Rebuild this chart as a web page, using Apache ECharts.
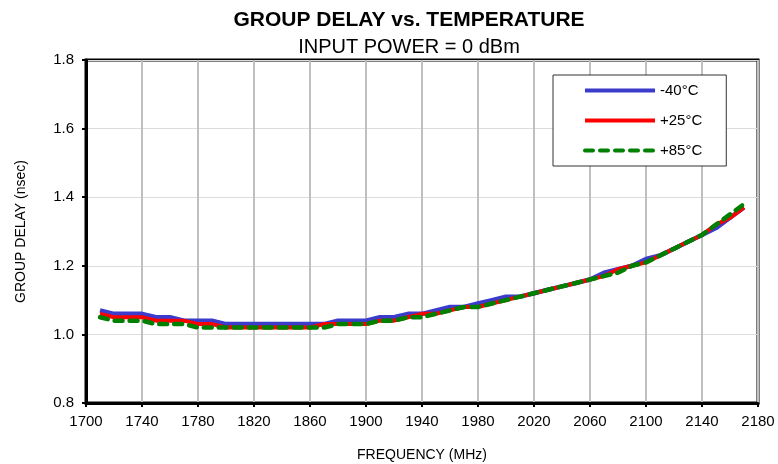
<!DOCTYPE html>
<html>
<head>
<meta charset="utf-8">
<script src="https://cdn.jsdelivr.net/npm/echarts@6/dist/echarts.min.js"></script>
<style>
  html, body { margin: 0; padding: 0; background: #fff; }
  #chart { width: 778px; height: 464px; }
</style>
</head>
<body>
<div id="chart"></div>
<script>
// frequency points (MHz)
var freq = [1710, 1720, 1730, 1740, 1750, 1760, 1770, 1780, 1790, 1800,
  1810, 1820, 1830, 1840, 1850, 1860, 1870, 1880, 1890, 1900,
  1910, 1920, 1930, 1940, 1950, 1960, 1970, 1980, 1990, 2000,
  2010, 2020, 2030, 2040, 2050, 2060, 2070, 2080, 2090, 2100,
  2110, 2120, 2130, 2140, 2150, 2160, 2170];

// group delay (nsec)
var tMinus40 = [1.07, 1.06, 1.06, 1.06, 1.05, 1.05, 1.04, 1.04, 1.04, 1.03,
  1.03, 1.03, 1.03, 1.03, 1.03, 1.03, 1.03, 1.04, 1.04, 1.04,
  1.05, 1.05, 1.06, 1.06, 1.07, 1.08, 1.08, 1.09, 1.10, 1.11,
  1.11, 1.12, 1.13, 1.14, 1.15, 1.16, 1.18, 1.19, 1.20, 1.22,
  1.23, 1.25, 1.27, 1.29, 1.31, 1.34, 1.37];
var tPlus25 = [1.06, 1.05, 1.05, 1.05, 1.04, 1.04, 1.04, 1.03, 1.03, 1.02,
  1.02, 1.02, 1.02, 1.02, 1.02, 1.02, 1.03, 1.03, 1.03, 1.03,
  1.04, 1.04, 1.05, 1.06, 1.06, 1.07, 1.08, 1.08, 1.09, 1.10,
  1.11, 1.12, 1.13, 1.14, 1.15, 1.16, 1.17, 1.19, 1.20, 1.21,
  1.23, 1.25, 1.27, 1.29, 1.32, 1.34, 1.37];
var tPlus85 = [1.05, 1.04, 1.04, 1.04, 1.03, 1.03, 1.03, 1.02, 1.02, 1.02,
  1.02, 1.02, 1.02, 1.02, 1.02, 1.02, 1.02, 1.03, 1.03, 1.03,
  1.04, 1.04, 1.05, 1.05, 1.06, 1.07, 1.08, 1.08, 1.09, 1.10,
  1.11, 1.12, 1.13, 1.14, 1.15, 1.16, 1.17, 1.18, 1.20, 1.21,
  1.23, 1.25, 1.27, 1.29, 1.32, 1.35, 1.38];

var seriesNames = ["-40°C", "+25°C", "+85°C"];

function pairs(ys) {
  return freq.map(function (f, i) { return [f, ys[i]]; });
}

var chart = echarts.init(document.getElementById("chart"));
var font = "Liberation Sans, Arial, sans-serif";

chart.setOption({
  animation: false,
  textStyle: { fontFamily: font },
  title: [
    {
      text: "GROUP DELAY vs. TEMPERATURE",
      left: 404, top: 5, textAlign: "center",
      textStyle: { fontSize: 21, fontWeight: "bold", color: "#000", fontFamily: font }
    },
    {
      text: "INPUT POWER = 0 dBm",
      left: 404, top: 32, textAlign: "center",
      textStyle: { fontSize: 20, fontWeight: "normal", color: "#000", fontFamily: font }
    }
  ],
  legend: {
    orient: "vertical",
    left: 553, top: 75,
    padding: [8, 24, 8, 30],
    itemWidth: 70, itemHeight: 14, itemGap: 15,
    backgroundColor: "#fff",
    borderColor: "#333", borderWidth: 1,
    itemStyle: { opacity: 0 },
    lineStyle: { width: 4 },
    textStyle: { fontSize: 15, color: "#000", fontFamily: font },
    data: seriesNames
  },
  grid: {
    left: 86, right: 20, top: 60, bottom: 61,
    outerBoundsMode: "none",
    show: true, borderColor: "#000", borderWidth: 3
  },
  xAxis: {
    type: "value", min: 1700, max: 2180, interval: 40,
    name: "FREQUENCY (MHz)", nameLocation: "middle", nameGap: 45,
    nameTextStyle: { fontSize: 14, color: "#000", fontFamily: font },
    axisLine: { lineStyle: { color: "#000", width: 3 } },
    axisTick: { show: true, length: 4, lineStyle: { color: "#000", width: 2 } },
    axisLabel: {
      fontSize: 15, color: "#000", margin: 11, fontFamily: font,
      formatter: function (v) { return String(v); }
    },
    splitLine: { show: true, lineStyle: { color: "#c0c0c0", width: 2 } }
  },
  yAxis: {
    type: "value", min: 0.8, max: 1.8, interval: 0.2,
    name: "GROUP DELAY (nsec)", nameLocation: "middle", nameGap: 58,
    nameTextStyle: { fontSize: 14, color: "#000", fontFamily: font },
    axisLine: { show: true, lineStyle: { color: "#000", width: 3 } },
    axisTick: { show: true, length: 4, lineStyle: { color: "#000", width: 2 } },
    axisLabel: {
      fontSize: 15, color: "#000", margin: 12, fontFamily: font,
      formatter: function (v) { return v.toFixed(1); }
    },
    splitLine: { show: true, lineStyle: { color: "#dcdcdc", width: 1 } }
  },
  series: [
    {
      name: seriesNames[0], type: "line", data: pairs(tMinus40),
      showSymbol: false, symbol: "none", z: 2,
      lineStyle: { color: "#3b3bcc", width: 4.5 },
      itemStyle: { color: "#3b3bcc" }
    },
    {
      name: seriesNames[1], type: "line", data: pairs(tPlus25),
      showSymbol: false, symbol: "none", z: 3,
      lineStyle: { color: "#ff0000", width: 4 },
      itemStyle: { color: "#ff0000" }
    },
    {
      name: seriesNames[2], type: "line", data: pairs(tPlus85),
      showSymbol: false, symbol: "none", z: 4,
      lineStyle: { color: "#008000", width: 4.5, type: [8, 7], cap: "round" },
      itemStyle: { color: "#008000" }
    }
  ]
});
</script>
</body>
</html>
